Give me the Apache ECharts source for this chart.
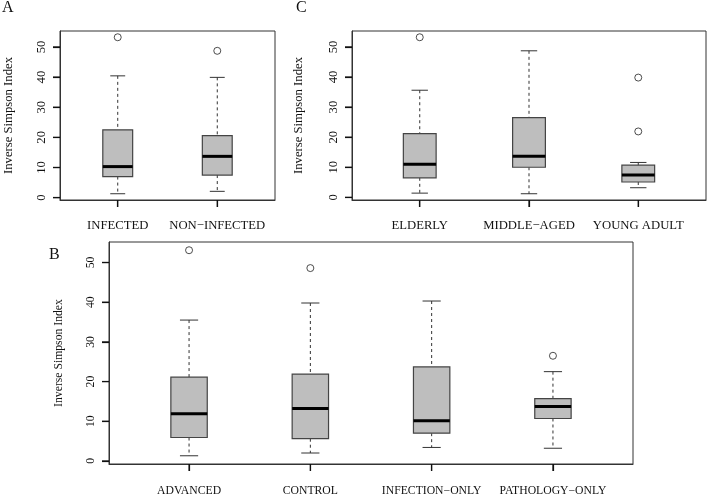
<!DOCTYPE html>
<html>
<head>
<meta charset="utf-8">
<script src="https://cdn.jsdelivr.net/npm/echarts@6/dist/echarts.min.js"></script>
<style>
  html, body { margin: 0; padding: 0; background: #fff; }
  #main { width: 707px; height: 497px; }
</style>
</head>
<body>
<div id="main"></div>
<script>
// 数据：每组 [下须, Q1, 中位数, Q3, 上须]
var catsA = ['INFECTED', 'NON\u2212INFECTED'];
var statsA = [[1.3, 7.0, 10.3, 22.5, 40.4], [2.1, 7.5, 13.7, 20.6, 39.9]];
var outA = [[0, 53.2], [1, 48.7]];

var catsC = ['ELDERLY', 'MIDDLE\u2212AGED', 'YOUNG ADULT'];
var statsC = [[1.4, 6.5, 11.0, 21.2, 35.6], [1.2, 10.0, 13.7, 26.5, 48.7], [3.2, 5.1, 7.4, 10.7, 11.6]];
var outC = [[0, 53.2], [2, 39.8], [2, 21.9]];

var catsB = ['ADVANCED', 'CONTROL', 'INFECTION\u2212ONLY', 'PATHOLOGY\u2212ONLY'];
var statsB = [[1.3, 5.9, 11.9, 21.1, 35.5], [2.0, 5.6, 13.2, 21.9, 39.8], [3.4, 7.0, 10.1, 23.7, 40.3], [3.2, 10.7, 13.7, 15.7, 22.5]];
var outB = [[0, 53.1], [1, 48.6], [3, 26.5]];

var yTicks = [0, 10, 20, 30, 40, 50];
var yName = 'Inverse Simpson Index';

var FONT = 'Liberation Serif';
var BOX_W = 0.3;
var TICK = 7;

// R 风格的坐标范围：数据范围两边各扩 4%
function yRange(stats, outs) {
  var vals = [];
  stats.forEach(function (s) { vals = vals.concat(s); });
  outs.forEach(function (o) { vals.push(o[1]); });
  var lo = Math.min.apply(null, vals), hi = Math.max.apply(null, vals);
  var d = (hi - lo) * 0.04;
  return [lo - d, hi + d];
}

// 箱线图 + 刻度（刻度也由坐标轴换算，不写死像素）
function makeRender(xMin, yMin) {
  return function (params, api) {
    var x = api.value(0);
    var lo = api.coord([x, api.value(1)]);
    var q1 = api.coord([x, api.value(2)]);
    var md = api.coord([x, api.value(3)]);
    var q3 = api.coord([x, api.value(4)]);
    var hi = api.coord([x, api.value(5)]);
    var bw = api.size([BOX_W, 0])[0];
    var cx = lo[0], half = bw / 2, cap = bw / 4;
    var dash = { stroke: '#333', lineWidth: 1, lineDash: [3, 3] };
    var solid = { stroke: '#333', lineWidth: 1 };
    var tickStyle = { stroke: '#111', lineWidth: 1.2 };
    var bottom = api.coord([x, yMin])[1];
    var kids = [
      { type: 'line', silent: true, shape: { x1: cx, y1: bottom, x2: cx, y2: bottom + TICK }, style: tickStyle },
      { type: 'line', shape: { x1: cx, y1: hi[1], x2: cx, y2: q3[1] }, style: dash },
      { type: 'line', shape: { x1: cx, y1: q1[1], x2: cx, y2: lo[1] }, style: dash },
      { type: 'line', shape: { x1: cx - cap, y1: hi[1], x2: cx + cap, y2: hi[1] }, style: solid },
      { type: 'line', shape: { x1: cx - cap, y1: lo[1], x2: cx + cap, y2: lo[1] }, style: solid },
      { type: 'rect', shape: { x: cx - half, y: q3[1], width: bw, height: q1[1] - q3[1] },
        style: { fill: '#bebebe', stroke: '#444', lineWidth: 1.2 } },
      { type: 'line', shape: { x1: cx - half, y1: md[1], x2: cx + half, y2: md[1] },
        style: { stroke: '#000', lineWidth: 3 } }
    ];
    if (params.dataIndex === 0) {
      yTicks.forEach(function (t) {
        var p = api.coord([xMin, t]);
        kids.push({ type: 'line', silent: true, shape: { x1: p[0] - TICK, y1: p[1], x2: p[0], y2: p[1] }, style: tickStyle });
      });
    }
    return { type: 'group', children: kids };
  };
}

var panels = [
  { cats: catsA, stats: statsA, outs: outA, grid: { left: 60, top: 31, width: 215, height: 169 }, fs: 12.7, nameGap: 45, xm: 19 },
  { cats: catsC, stats: statsC, outs: outC, grid: { left: 352, top: 31, width: 354, height: 169 }, fs: 12.7, nameGap: 47, xm: 19 },
  { cats: catsB, stats: statsB, outs: outB, grid: { left: 109, top: 242, width: 524, height: 228 }, fs: 11.7, nameGap: 44, xm: 21 }
];

var grids = [], xAxes = [], yAxes = [], series = [];
panels.forEach(function (p, i) {
  var n = p.cats.length;
  var idx = p.cats.map(function (c, k) { return k; });
  var yr = yRange(p.stats, p.outs);
  var xr = [-0.5 - 0.04 * n, n - 0.5 + 0.04 * n];
  grids.push(Object.assign({ show: true, borderColor: '#333', borderWidth: 1 }, p.grid));
  xAxes.push({
    type: 'value', gridIndex: i,
    min: xr[0], max: xr[1],
    axisLine: { show: true, onZero: false, lineStyle: { color: '#333' } },
    splitLine: { show: false },
    axisTick: { show: true, length: TICK, customValues: idx, lineStyle: { color: '#111', width: 1.2 } },
    axisLabel: {
      customValues: idx, margin: p.xm,
      fontFamily: FONT, fontSize: p.fs, color: '#111',
      formatter: function (v) { return p.cats[Math.round(v)]; }
    }
  });
  yAxes.push({
    type: 'value', gridIndex: i,
    min: yr[0], max: yr[1],
    axisLine: { show: true, onZero: false, lineStyle: { color: '#333' } },
    splitLine: { show: false },
    axisTick: { show: true, length: TICK, customValues: yTicks, lineStyle: { color: '#111', width: 1.2 } },
    axisLabel: {
      customValues: yTicks, rotate: 90, margin: 12,
      fontFamily: FONT, fontSize: p.fs, color: '#111'
    },
    name: yName, nameLocation: 'middle', nameRotate: 90, nameGap: p.nameGap,
    nameTextStyle: { fontFamily: FONT, fontSize: p.fs, color: '#111' }
  });
  series.push({
    type: 'custom', xAxisIndex: i, yAxisIndex: i,
    clip: false,
    renderItem: makeRender(xr[0], yr[0]),
    encode: { x: 0, y: [1, 2, 3, 4, 5] },
    data: p.stats.map(function (s, k) { return [k].concat(s); })
  });
  series.push({
    type: 'scatter', xAxisIndex: i, yAxisIndex: i,
    symbol: 'circle', symbolSize: 7,
    itemStyle: { color: 'rgba(0,0,0,0)', borderColor: '#222', borderWidth: 1 },
    data: p.outs
  });
});

var myChart = echarts.init(document.getElementById('main'));
myChart.setOption({
  animation: false,
  backgroundColor: '#fff',
  title: [
    { text: 'A', left: 2, top: 0, padding: 0, textStyle: { fontFamily: FONT, fontSize: 16, fontWeight: 'normal', color: '#111' } },
    { text: 'C', left: 296, top: 0, padding: 0, textStyle: { fontFamily: FONT, fontSize: 16, fontWeight: 'normal', color: '#111' } },
    { text: 'B', left: 49, top: 247, padding: 0, textStyle: { fontFamily: FONT, fontSize: 16, fontWeight: 'normal', color: '#111' } }
  ],
  grid: grids,
  xAxis: xAxes,
  yAxis: yAxes,
  series: series
});
</script>
</body>
</html>
